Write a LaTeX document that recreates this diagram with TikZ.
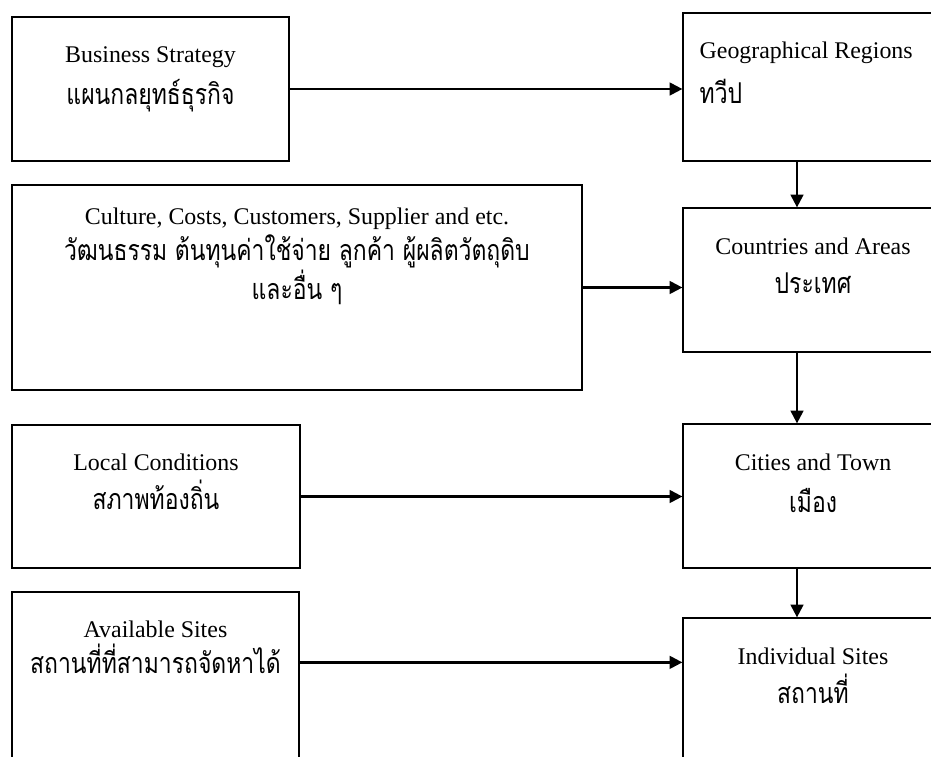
\documentclass[tikz,border=0pt]{standalone}
\usepackage{fontspec}
\setmainfont{Liberation Serif}
\newfontfamily\thaifont[Script=Thai,FakeStretch=0.8,Scale=1.2]{Loma}
\usetikzlibrary{arrows.meta}

\begin{document}
\begin{tikzpicture}[>={Triangle[length=0.32cm,width=0.32cm]},
  box/.style={draw, rectangle, line width=0.9pt, minimum width=6.5cm},
  boxtext/.style={anchor=north, inner sep=0pt, align=center, font=\fontsize{17}{28}\selectfont},
  flow/.style={->, line width=1.6pt}]
\useasboundingbox (0,0) rectangle (23.275,-18.9);
\clip (0,0) rectangle (23.275,-18.9);

% left column
\node[box, minimum width=6.925cm, minimum height=3.6cm] (strategy) at (3.7625,-2.225) {};
\node[box, minimum width=14.25cm, minimum height=5.125cm] (culture) at (7.425,-7.1875) {};
\node[box, minimum width=7.2cm, minimum height=3.575cm] (local) at (3.9,-12.4125) {};
\node[box, minimum width=7.175cm, minimum height=4.7cm] (avail) at (3.8875,-17.15) {};

% right column
\node[box, minimum height=3.7cm] (geo) at (20.325,-2.175) {};
\node[box, minimum height=3.6cm] (countries) at (20.325,-7.0) {};
\node[box, minimum height=3.6cm] (cities) at (20.325,-12.4) {};
\node[box, minimum height=4.05cm] (indiv) at (20.325,-17.475) {};

% texts
\node[boxtext, font=\fontsize{17}{30}\selectfont] (strategytxt) at ([yshift=-0.75cm]strategy.north) {Business Strategy\\{\thaifont แผนกลยุทธ์ธุรกิจ}};
\node[boxtext, font=\fontsize{17}{26}\selectfont] (culturetxt) at ([yshift=-0.58cm]culture.north) {Culture, Costs, Customers, Supplier and etc.\\{\thaifont วัฒนธรรม ต้นทุนค่าใช้จ่าย ลูกค้า ผู้ผลิตวัตถุดิบ}\\{\thaifont และอื่น ๆ}};
\node[boxtext] (localtxt) at ([yshift=-0.72cm]local.north) {Local Conditions\\{\thaifont สภาพท้องถิ่น}};
\node[boxtext, font=\fontsize{17}{26}\selectfont] (availtxt) at ([yshift=-0.72cm]avail.north) {Available Sites\\{\thaifont สถานที่ที่สามารถจัดหาได้}};
\node[boxtext, anchor=north west, align=left, font=\fontsize{17}{32}\selectfont] (geotxt) at ([xshift=0.425cm,yshift=-0.72cm]geo.north west) {Geographical Regions\\{\thaifont ทวีป}};
\node[boxtext] (countriestxt) at ([yshift=-0.75cm]countries.north) {Countries and Areas\\{\thaifont ประเทศ}};
\node[boxtext, font=\fontsize{17}{30}\selectfont] (citiestxt) at ([yshift=-0.75cm]cities.north) {Cities and Town\\{\thaifont เมือง}};
\node[boxtext] (indivtxt) at ([yshift=-0.75cm]indiv.north) {Individual Sites\\{\thaifont สถานที่}};

% connectors
\draw[flow] (strategy.east) -- (strategy.east -| geo.west);
\draw[flow] (culture.east) -- (culture.east -| countries.west);
\draw[flow] (local.east) -- (local.east -| cities.west);
\draw[flow] ([yshift=-1.775cm]avail.north east) -- ([yshift=-1.775cm]avail.north east -| indiv.west);
\draw[flow] ([xshift=-0.4cm]geo.south) -- ([xshift=-0.4cm]countries.north);
\draw[flow] ([xshift=-0.4cm]countries.south) -- ([xshift=-0.4cm]cities.north);
\draw[flow] ([xshift=-0.4cm]cities.south) -- ([xshift=-0.4cm]indiv.north);
\end{tikzpicture}
\end{document}
